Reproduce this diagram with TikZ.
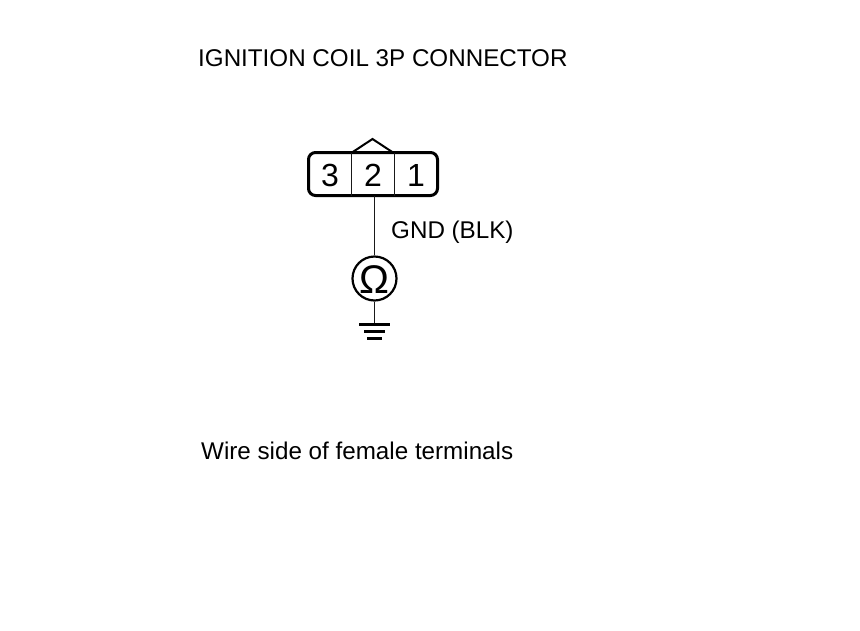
\documentclass[tikz,border=0pt]{standalone}
\usepackage{fontspec}
\setmainfont{Liberation Sans}
\tikzset{
  lab/.style={inner sep=0pt,anchor=base west,font=\fontsize{24.2}{24.2}\selectfont,text=black},
  digit/.style={inner sep=0pt,anchor=base,font=\fontsize{32}{32}\selectfont,text=black},
  heavy/.style={line width=3pt,black},
  thin wire/.style={line width=1.5pt,black!90},
  cell/.style={inner sep=0pt,minimum width=43pt,minimum height=43pt},
}
\begin{document}
\begin{tikzpicture}[x=1pt,y=-1pt]
\useasboundingbox (0,0) rectangle (860,630);
\node[lab] (title) at (198,66) {IGNITION COIL 3P CONNECTOR};
\node[lab] (gnd) at (391,238) {GND (BLK)};
\node[lab] (wire) at (201,459) {Wire side of female terminals};
% connector
\node[cell] (c2) at (373,174) {};
\draw[heavy,rounded corners=7pt] (308.5,152.5) rectangle (437.5,195.5);
\draw[thin wire] (351.5,152.5) -- (351.5,195.5);
\draw[thin wire] (394.5,152.5) -- (394.5,195.5);
\draw[line width=2pt,black,line join=miter] (352,152.5) -- (372.5,139) -- (393,152.5);
\node[digit] (d3) at (330,186) {3};
\node[digit] (d2) at (373,186) {2};
\node[digit] (d1) at (416,186) {1};
% meter
\node[circle,draw=black,line width=2.2pt,minimum size=44pt,inner sep=0pt] (ohm) at (374.5,278.5) {};
\node[inner sep=0pt,anchor=base,font=\fontsize{40}{40}\selectfont,text=black] (om) at (374,293) {Ω};
\coordinate (top) at (374.5,195.5);
\coordinate (gr) at (374.5,324);
\draw[thin wire] (top) -- (ohm.north);
\draw[thin wire] (ohm.south) -- (gr);
% ground
\draw[line width=3pt,black] (359,324) -- (390,324);
\draw[line width=2.6pt,black] (364,331.5) -- (385,331.5);
\draw[line width=2.6pt,black] (367,338.5) -- (382,338.5);
\end{tikzpicture}
\end{document}
